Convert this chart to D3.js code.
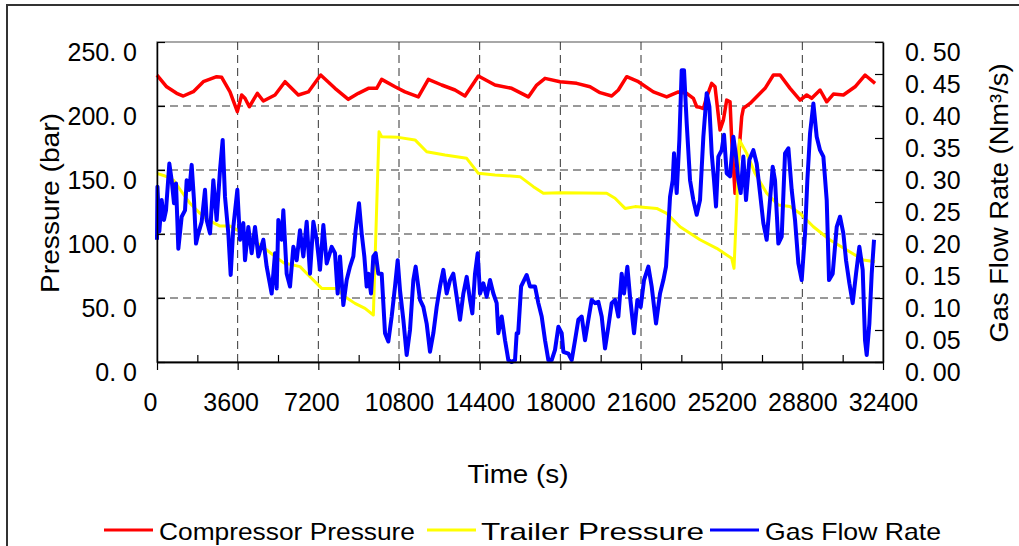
<!DOCTYPE html>
<html>
<head>
<meta charset="utf-8">
<script src="https://cdn.jsdelivr.net/npm/d3@7"></script>
<style>
  html, body { margin: 0; padding: 0; background: #fff; }
  svg { display: block; }
  text { font-family: Arial, "Liberation Sans", sans-serif; fill: #000; }
</style>
</head>
<body>
<svg id="chart" width="1019" height="546"></svg>
<script>
// ---------- data ----------
const seriesNames = ["Compressor Pressure", "Trailer Pressure", "Gas Flow Rate"];
const seriesColors = ["#ff0000", "#ffff00", "#0000ff"];
const timeTicks = [0, 3600, 7200, 10800, 14400, 18000, 21600, 25200, 28800, 32400];
const pressureTicks = [0, 50, 100, 150, 200, 250];
const flowTicks = [0, 0.05, 0.10, 0.15, 0.20, 0.25, 0.30, 0.35, 0.40, 0.45, 0.50];

const compressorT = [0, 432, 878, 1175, 1621, 2067, 2663, 2887, 3258, 3585, 3779, 3927, 4121, 4478, 4746, 5267, 5713, 6308, 6754, 7304, 7944, 8539, 8985, 9432, 9804, 10027, 10622, 11068, 11663, 12110, 12705, 13300, 13746, 14341, 15085, 15829, 16573, 16945, 17317, 17986, 18730, 19325, 19772, 20292, 20590, 20962, 21483, 22152, 22747, 23268, 23640, 23938, 24087, 24234, 24384, 24532, 24755, 24904, 25127, 25276, 25425, 25574, 25648, 25797, 25946, 26095, 26169, 26467, 26839, 27137, 27508, 27806, 28252, 28699, 28996, 29219, 29591, 29889, 30186, 30632, 31153, 31599, 32046];
const compressorP = [224.2, 215, 209.9, 207.8, 211.2, 219, 222.9, 222.4, 211, 195.6, 208.6, 206, 199.4, 209.9, 203.9, 208.6, 219, 208.6, 211, 224.2, 213.8, 205.2, 209.9, 213.8, 213.8, 220.8, 215, 211, 207.1, 220.8, 216.4, 212.5, 207.8, 223.4, 216.4, 213.8, 207.1, 216.4, 221.6, 219, 217.7, 215, 210.4, 207.8, 212.5, 222.9, 219, 211, 207.1, 211, 209.9, 206, 199.4, 199, 198, 207, 217.7, 215, 181.2, 189, 204.6, 203.3, 173.4, 131.8, 157.8, 191.7, 198.1, 202, 208.6, 213.8, 224.2, 224.2, 213.8, 204.6, 208.6, 206, 212.5, 203.3, 209.3, 208.6, 215, 224.2, 217.7];

const trailerT = [0, 357, 744, 1100, 1472, 1919, 2291, 2812, 3258, 3853, 4700, 5640, 6383, 6829, 7350, 7721, 8000, 8390, 8836, 9283, 9655, 9908, 10027, 10771, 11515, 12036, 12854, 13821, 14341, 15085, 16201, 16796, 17243, 17986, 20069, 20441, 20887, 21334, 22301, 22747, 23342, 24234, 24978, 25648, 25752, 25991, 26318, 26690, 27211, 27732, 28252, 28699, 29294, 30038, 30781, 31525, 32046];
const trailerP = [147.4, 145.3, 142, 133, 124, 116.1, 110.9, 106.2, 106.2, 100.5, 90, 77.6, 74.5, 66.6, 57.5, 57.5, 57.5, 51, 45.8, 41.9, 36.7, 179.9, 176, 175.5, 173.5, 164.3, 161.7, 159.1, 147.4, 146.1, 144.8, 137, 131.8, 132.3, 131.8, 127.9, 120, 121.4, 120, 116.1, 105.7, 95.5, 88.8, 81, 73.2, 173.4, 163, 147.4, 131.8, 122.6, 121.4, 116.1, 105.7, 95.3, 87.5, 79.7, 78.4];

const flowT = [0, 20, 104, 208, 312, 402, 550, 655, 759, 848, 952, 1101, 1250, 1324, 1443, 1547, 1651, 1741, 1845, 1994, 2142, 2217, 2366, 2514, 2663, 2812, 2931, 3035, 3184, 3288, 3407, 3585, 3704, 3853, 3928, 4076, 4225, 4374, 4523, 4746, 4895, 5118, 5267, 5341, 5415, 5564, 5638, 5787, 5936, 6085, 6234, 6382, 6531, 6680, 6829, 6978, 7126, 7275, 7424, 7573, 7796,
  7944, 8063, 8167, 8316, 8465, 8613, 8762, 8866, 9015, 9134, 9253, 9357, 9432, 9551, 9655, 9759, 9878, 10027, 10176, 10324, 10473, 10622, 10741, 10845, 10994, 11143, 11291, 11440, 11544, 11738, 11886, 12035, 12184, 12333, 12482, 12630, 12779, 12928, 13077, 13225, 13374, 13523, 13672, 13821, 13969, 14073, 14192, 14311, 14415, 14564, 14713, 14862, 15011, 15159, 15234, 15383, 15532, 15680, 15829, 15978, 16052, 16120,
  16250, 16499, 16647, 16870, 17019, 17168, 17317, 17466, 17614, 17763, 17912, 18061, 18135, 18358, 18507, 18656, 18804, 18953, 19102, 19251, 19399, 19548, 19697, 19846, 19995, 20143, 20293, 20441, 20590, 20738, 20843, 20991, 21110, 21289, 21438, 21586, 21735, 21929, 22077, 22271, 22449, 22598, 22717, 22821, 22896, 23015, 23074, 23193, 23312, 23416, 23520, 23640, 23788, 23937, 24086,
  24234, 24383, 24532, 24651, 24755, 24859, 24948, 25052, 25201, 25305, 25424, 25573, 25722, 25841, 25945, 26049, 26168, 26287, 26436, 26614, 26763, 26912, 27060, 27209, 27358, 27477, 27581, 27730, 27879, 28028, 28177, 28325, 28474, 28623, 28772, 28921, 29024, 29144, 29293, 29441, 29590, 29739, 29888, 29992, 30155, 30334, 30482, 30631, 30750, 30899, 31048, 31196, 31345, 31494, 31598, 31673, 31792, 31896, 32000];
const flowV = [0.191, 0.274, 0.204, 0.253, 0.222, 0.237, 0.310, 0.284, 0.248, 0.279, 0.177, 0.227, 0.237, 0.284, 0.269, 0.308, 0.253, 0.185, 0.201, 0.219, 0.269, 0.222, 0.201, 0.284, 0.222, 0.300, 0.347, 0.258, 0.201, 0.136, 0.211, 0.269, 0.191, 0.217, 0.159, 0.211, 0.170, 0.211, 0.165, 0.191, 0.149, 0.107, 0.170, 0.115, 0.222, 0.191, 0.237, 0.138, 0.118, 0.180, 0.159, 0.206, 0.165, 0.219, 0.138, 0.219, 0.191, 0.144, 0.214, 0.154, 0.180,
  0.170, 0.107, 0.165, 0.089, 0.128, 0.149, 0.165, 0.206, 0.248, 0.201, 0.165, 0.118, 0.138, 0.107, 0.165, 0.170, 0.138, 0.138, 0.045, 0.032, 0.071, 0.118, 0.159, 0.112, 0.066, 0.011, 0.050, 0.128, 0.149, 0.097, 0.086, 0.060, 0.016, 0.045, 0.086, 0.118, 0.144, 0.107, 0.128, 0.138, 0.102, 0.066, 0.107, 0.133, 0.097, 0.076, 0.138, 0.170, 0.107, 0.123, 0.102, 0.128, 0.107, 0.092, 0.045, 0.071, 0.034, 0.003, 0.000, 0.003, 0.045, 0.045,
  0.118, 0.136, 0.118, 0.118, 0.092, 0.071, 0.034, 0.003, 0.003, 0.019, 0.055, 0.045, 0.016, 0.013, 0.003, 0.034, 0.066, 0.071, 0.034, 0.066, 0.097, 0.092, 0.094, 0.071, 0.021, 0.055, 0.092, 0.097, 0.071, 0.138, 0.107, 0.149, 0.102, 0.045, 0.097, 0.086, 0.128, 0.149, 0.118, 0.060, 0.107, 0.128, 0.149, 0.211, 0.258, 0.284, 0.326, 0.264, 0.347, 0.456, 0.456, 0.373, 0.284, 0.253, 0.230,
  0.253, 0.352, 0.420, 0.399, 0.326, 0.284, 0.243, 0.321, 0.331, 0.355, 0.295, 0.290, 0.352, 0.321, 0.284, 0.264, 0.321, 0.253, 0.316, 0.331, 0.310, 0.264, 0.217, 0.191, 0.253, 0.305, 0.284, 0.185, 0.196, 0.326, 0.334, 0.269, 0.222, 0.154, 0.128, 0.201, 0.284, 0.357, 0.404, 0.352, 0.331, 0.321, 0.253, 0.128, 0.138, 0.211, 0.227, 0.201, 0.159, 0.123, 0.092, 0.138, 0.180, 0.144, 0.034, 0.011, 0.060, 0.138, 0.191];

// ---------- layout ----------
const svg = d3.select("#chart");
const L = 157, R = 883, T = 42, B = 362;
const x = d3.scaleLinear().domain([0, 32400]).range([L, R]);
const yL = d3.scaleLinear().domain([0, 250]).range([B, T]);
const yR = d3.scaleLinear().domain([0, 0.5]).range([B, T]);
const FS = 25;

// outer chart border
svg.append("rect").attr("x", 7).attr("y", 5).attr("width", 1040).attr("height", 580)
  .attr("fill", "none").attr("stroke", "#333").attr("stroke-width", 2);

// plot area border (gray)
svg.append("rect").attr("x", L).attr("y", T).attr("width", R - L).attr("height", B - T)
  .attr("fill", "#fff").attr("stroke", "#8c8c8c").attr("stroke-width", 1.5);

// gridlines
const grid = svg.append("g").attr("stroke", "#333").attr("stroke-width", 1).attr("stroke-dasharray", "8,5");
grid.selectAll("line.h").data(pressureTicks.filter(v => v > 0 && v < 250)).join("line")
  .attr("x1", L).attr("x2", R).attr("y1", d => yL(d)).attr("y2", d => yL(d));
grid.selectAll("line.v").data(timeTicks.filter(v => v > 0 && v < 32400)).join("line")
  .attr("y1", T).attr("y2", B).attr("x1", d => x(d)).attr("x2", d => x(d));

// series
const lineP = (ts, vs, ys) => d3.line().x((d, i) => x(ts[i])).y(d => ys(d))(vs);
svg.append("path").attr("d", lineP(compressorT, compressorP, yL))
  .attr("fill", "none").attr("stroke", seriesColors[0]).attr("stroke-width", 3.5).attr("stroke-linejoin", "round");
svg.append("path").attr("d", lineP(trailerT, trailerP, yL))
  .attr("fill", "none").attr("stroke", seriesColors[1]).attr("stroke-width", 3).attr("stroke-linejoin", "round");
svg.append("path").attr("d", lineP(flowT, flowV, yR))
  .attr("fill", "none").attr("stroke", seriesColors[2]).attr("stroke-width", 4).attr("stroke-linejoin", "round");

// axes
const fmtL = d => d3.format(".1f")(d).replace(".", ". ");
const fmtR = d => d3.format(".2f")(d).replace(".", ". ");

const gL = svg.append("g").attr("transform", `translate(${L},0)`)
  .call(d3.axisLeft(yL).tickValues(pressureTicks).tickFormat(fmtL).tickSizeInner(-8).tickSizeOuter(0).tickPadding(20));
gL.selectAll("text").attr("dy", 18).attr("font-size", FS).style("font-family", "Arial, 'Liberation Sans', sans-serif");

const gR = svg.append("g").attr("transform", `translate(${R},0)`)
  .call(d3.axisRight(yR).tickValues(flowTicks).tickFormat(fmtR).tickSizeInner(-8).tickSizeOuter(0).tickPadding(22));
gR.selectAll("text").attr("dy", 18).attr("font-size", FS).style("font-family", "Arial, 'Liberation Sans', sans-serif");

const minorT = timeTicks.slice(0, -1).map((d, i) => (d + timeTicks[i + 1]) / 2);
svg.append("g").attr("transform", `translate(0,${B})`)
  .call(d3.axisBottom(x).tickValues(minorT).tickFormat("").tickSizeInner(-7).tickSizeOuter(0));
const gB = svg.append("g").attr("transform", `translate(0,${B})`)
  .call(d3.axisBottom(x).tickValues(timeTicks).tickFormat(d3.format("d")).tickSizeInner(8).tickSizeOuter(0));
gB.selectAll("text").attr("y", 49).attr("dy", 0).attr("font-size", FS)
  .attr("dx", d => String(d).length < 5 ? -7 : 0)
  .style("font-family", "Arial, 'Liberation Sans', sans-serif");

svg.selectAll(".domain").attr("stroke", "#000").attr("stroke-width", 1.5);
svg.selectAll(".tick line").attr("stroke", "#000").attr("stroke-width", 1.2);

// axis titles
svg.append("text").attr("transform", "translate(59,203) rotate(-90)")
  .attr("text-anchor", "middle").attr("font-size", FS)
  .attr("textLength", 180).attr("lengthAdjust", "spacingAndGlyphs").text("Pressure (bar)");
svg.append("text").attr("transform", "translate(1008,203) rotate(-90)")
  .attr("text-anchor", "middle").attr("font-size", FS)
  .attr("textLength", 279).attr("lengthAdjust", "spacingAndGlyphs").text("Gas Flow Rate (Nm³/s)");
svg.append("text").attr("x", 518).attr("y", 483)
  .attr("text-anchor", "middle").attr("font-size", FS)
  .attr("textLength", 101).attr("lengthAdjust", "spacingAndGlyphs").text("Time (s)");

// legend
const legendLine = [[104, 153], [427, 476], [710, 759]];
const legendText = [[159, 256], [481, 223], [765, 176]];
const lg = svg.append("g");
seriesNames.forEach((name, i) => {
  lg.append("line").attr("x1", legendLine[i][0]).attr("x2", legendLine[i][1])
    .attr("y1", 530).attr("y2", 530).attr("stroke", seriesColors[i]).attr("stroke-width", 3);
  lg.append("text").attr("x", legendText[i][0]).attr("y", 540).attr("font-size", 24)
    .attr("textLength", legendText[i][1]).attr("lengthAdjust", "spacingAndGlyphs").text(name);
});
</script>
</body>
</html>
